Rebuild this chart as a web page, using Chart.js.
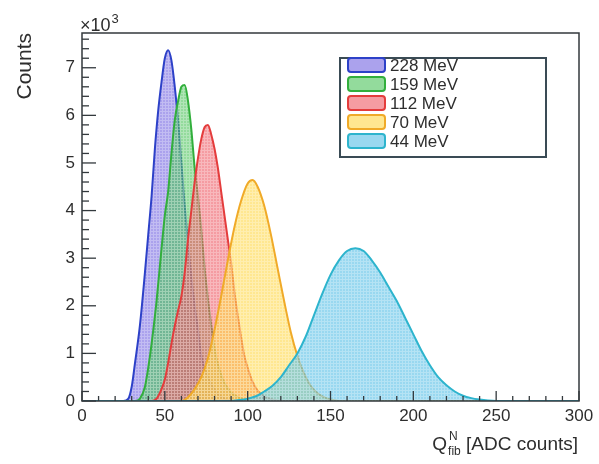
<!DOCTYPE html>
<html>
<head>
<meta charset="utf-8">
<script src="https://cdn.jsdelivr.net/npm/chart.js@4.4.1/dist/chart.umd.min.js"></script>
<style>
html,body{margin:0;padding:0;background:#fff;}
#wrap{width:599px;height:464px;position:relative;}
</style>
</head>
<body>
<div id="wrap"><canvas id="c" width="599" height="464"></canvas></div>
<script>
// ---- data (counts in units of 10^3) ----
const seriesLabels = ["228 MeV", "159 MeV", "112 MeV", "70 MeV", "44 MeV"];

const x228 = [0, 25, 28, 30, 32, 35, 38, 40, 42, 44, 46, 48, 50, 52, 54, 56, 58, 60, 62, 64, 66, 68, 70, 72, 75, 78, 82, 86, 90, 300];
const y228 = [0, 0, 0.05, 0.3, 0.8, 1.6, 2.7, 3.5, 4.3, 5.3, 6.1, 6.7, 7.2, 7.37, 7.15, 6.6, 5.9, 5.0, 4.1, 3.3, 2.6, 2.0, 1.5, 0.95, 0.6, 0.35, 0.15, 0.05, 0, 0];

const x159 = [0, 32, 35, 38, 40, 42, 45, 48, 50, 52, 54, 56, 58, 60, 62, 64, 66, 68, 70, 72, 74, 76, 78, 80, 83, 86, 90, 95, 100, 105, 300];
const y159 = [0, 0, 0.05, 0.3, 0.7, 1.2, 2.1, 3.2, 3.9, 4.4, 5.2, 5.9, 6.3, 6.6, 6.64, 6.3, 5.7, 4.9, 4.3, 3.6, 2.8, 2.15, 1.6, 1.1, 0.65, 0.38, 0.18, 0.07, 0.02, 0, 0];

const x112 = [0, 42, 45, 48, 50, 52, 55, 58, 60, 62, 64, 66, 68, 70, 72, 74, 76, 78, 80, 82, 84, 86, 88, 90, 92, 94, 96, 98, 100, 103, 106, 110, 115, 120, 300];
const y112 = [0, 0, 0.05, 0.25, 0.45, 0.8, 1.4, 1.9, 2.2, 2.7, 3.4, 4.0, 4.6, 5.1, 5.5, 5.75, 5.8, 5.6, 5.3, 4.9, 4.4, 3.9, 3.4, 2.9, 2.3, 1.8, 1.35, 0.95, 0.7, 0.4, 0.22, 0.1, 0.03, 0, 0];

const x70 = [0, 60, 64, 68, 72, 76, 80, 84, 88, 92, 96, 100, 103, 106, 110, 114, 118, 122, 126, 130, 134, 138, 142, 146, 150, 155, 300];
const y70 = [0, 0, 0.08, 0.25, 0.5, 0.9, 1.5, 2.2, 2.95, 3.65, 4.2, 4.57, 4.64, 4.5, 4.1, 3.5, 2.8, 2.1, 1.45, 0.95, 0.58, 0.32, 0.17, 0.08, 0.03, 0, 0];

const x44 = [0, 90, 95, 100, 105, 110, 115, 120, 125, 130, 135, 140, 145, 150, 155, 160, 165, 170, 175, 180, 185, 190, 195, 200, 205, 210, 215, 220, 225, 230, 235, 240, 245, 250, 300];
const y44 = [0, 0, 0.02, 0.05, 0.1, 0.2, 0.32, 0.5, 0.75, 1.0, 1.35, 1.8, 2.25, 2.65, 2.95, 3.15, 3.21, 3.15, 2.95, 2.7, 2.4, 2.1, 1.75, 1.4, 1.05, 0.75, 0.5, 0.33, 0.2, 0.11, 0.06, 0.03, 0.01, 0, 0];

const xTickValues = [0, 50, 100, 150, 200, 250, 300];
const yTickValues = [0, 1, 2, 3, 4, 5, 6, 7];

// ---- styles ----
const lineColors = ["rgb(45,65,200)", "rgb(50,175,60)", "rgb(228,60,60)", "rgb(240,170,40)", "rgb(45,180,205)"];
const fillRGB = [[115,100,225], [75,195,90], [238,90,100], [255,215,70], [85,190,230]];

function makePattern(rgb, alpha) {
  const c = document.createElement('canvas');
  c.width = 3; c.height = 3;
  const g = c.getContext('2d');
  g.fillStyle = `rgba(${rgb[0]},${rgb[1]},${rgb[2]},${alpha})`;
  g.fillRect(0, 0, 3, 3);
  g.fillStyle = `rgba(255,255,255,0.28)`;
  g.fillRect(0, 0, 3, 1);
  g.fillRect(0, 1, 1, 2);
  return document.getElementById('c').getContext('2d').createPattern(c, 'repeat');
}

const xs = [x228, x159, x112, x70, x44];
const ys = [y228, y159, y112, y70, y44];

const datasets = seriesLabels.map((lab, i) => ({
  label: lab,
  data: xs[i].map((x, k) => ({x: x, y: ys[i][k]})),
  borderColor: lineColors[i],
  borderWidth: 2,
  backgroundColor: makePattern(fillRGB[i], 0.6),
  fill: 'origin',
  pointRadius: 0,
  tension: 0.35,
  cubicInterpolationMode: 'monotone',
  order: 4 - i
}));

const FONT = "'Liberation Sans', Arial, Helvetica, sans-serif";
const TXT = '#2e2e2e';

const decor = {
  id: 'decor',
  afterDatasetsDraw(chart) {
    const ctx = chart.ctx;
    const a = chart.chartArea;
    const xs_ = chart.scales.x, ys_ = chart.scales.y;
    ctx.save();
    // frame
    ctx.strokeStyle = '#33393d';
    ctx.lineWidth = 1.5;
    ctx.strokeRect(a.left, a.top, a.right - a.left, a.bottom - a.top);
    // x ticks (inward)
    ctx.lineWidth = 1.3;
    for (let v = 0; v <= 300; v += 10) {
      const px = xs_.getPixelForValue(v);
      const len = (v % 50 === 0) ? 10 : 5;
      ctx.beginPath(); ctx.moveTo(px, a.bottom); ctx.lineTo(px, a.bottom - len); ctx.stroke();
    }
    // y ticks
    for (let k = 0; k <= 38; k++) {
      const v = k * 0.2;
      const py = ys_.getPixelForValue(v);
      const len = (k % 5 === 0) ? 14 : 7;
      ctx.beginPath(); ctx.moveTo(a.left, py); ctx.lineTo(a.left + len, py); ctx.stroke();
    }
    // x10^3
    ctx.fillStyle = TXT;
    ctx.font = `18px ${FONT}`;
    ctx.textBaseline = 'alphabetic';
    ctx.textAlign = 'left';
    ctx.fillText('\u00d710', a.left - 2, 31);
    const w10 = ctx.measureText('\u00d710').width;
    ctx.font = `13px ${FONT}`;
    ctx.fillText('3', a.left - 1 + w10, 23);
    // Counts
    ctx.save();
    ctx.translate(31, 33);
    ctx.rotate(-Math.PI / 2);
    ctx.font = `21px ${FONT}`;
    ctx.textAlign = 'right';
    ctx.fillText('Counts', 0, 0);
    ctx.restore();
    // x title
    ctx.font = `19px ${FONT}`;
    ctx.textAlign = 'right';
    const rest = ' [ADC counts]';
    const xr = 578;
    const yb = 450;
    ctx.fillText(rest, xr, yb);
    const wr = ctx.measureText(rest).width;
    ctx.font = `12px ${FONT}`;
    const wsub = ctx.measureText('fib').width;
    ctx.textAlign = 'left';
    const xsub = xr - wr - wsub;
    ctx.fillText('fib', xsub, yb + 5);
    ctx.fillText('N', xsub + 1, yb - 10);
    ctx.font = `19px ${FONT}`;
    ctx.textAlign = 'right';
    ctx.fillText('Q', xsub - 1, yb);
    // legend
    const lx = 340, ly = 58, lw = 206, lh = 99;
    ctx.fillStyle = '#fff';
    ctx.fillRect(lx, ly, lw, lh);
    ctx.strokeStyle = '#3a4b55';
    ctx.lineWidth = 2;
    ctx.strokeRect(lx, ly, lw, lh);
    const rows = [65, 84, 103, 122, 141];
    chart.data.datasets.forEach((ds, i) => {
      const cy = rows[i];
      const sx = 348, sw = 37, sh = 14;
      ctx.beginPath();
      if (ctx.roundRect) ctx.roundRect(sx, cy - sh / 2, sw, sh, 3); else ctx.rect(sx, cy - sh / 2, sw, sh);
      ctx.fillStyle = `rgba(${fillRGB[i][0]},${fillRGB[i][1]},${fillRGB[i][2]},0.6)`;
      ctx.fill();
      ctx.strokeStyle = ds.borderColor;
      ctx.lineWidth = 2;
      ctx.stroke();
      ctx.fillStyle = TXT;
      ctx.font = `17px ${FONT}`;
      ctx.textAlign = 'left';
      ctx.textBaseline = 'middle';
      ctx.fillText(ds.label, 390, cy + 1);
    });
    ctx.restore();
  }
};

new Chart(document.getElementById('c'), {
  type: 'line',
  data: { datasets: datasets },
  options: {
    responsive: false,
    animation: false,
    events: [],
    layout: { padding: { left: 0, top: 33, right: 20, bottom: 0 } },
    plugins: { legend: { display: false }, tooltip: { enabled: false } },
    scales: {
      x: {
        type: 'linear', min: 0, max: 300,
        afterBuildTicks: s => { s.ticks = xTickValues.map(v => ({value: v})); },
        afterFit: s => { s.height = 63; },
        grid: { display: false, drawTicks: false },
        border: { display: false },
        ticks: { color: TXT, font: { family: FONT, size: 17 }, padding: 5, maxRotation: 0, autoSkip: false }
      },
      y: {
        type: 'linear', min: 0, max: 7.73,
        afterBuildTicks: s => { s.ticks = yTickValues.map(v => ({value: v})); },
        afterFit: s => { s.width = 82; },
        grid: { display: false, drawTicks: false },
        border: { display: false },
        ticks: { color: TXT, font: { family: FONT, size: 17 }, padding: 7 }
      }
    }
  },
  plugins: [decor]
});
</script>
</body>
</html>
